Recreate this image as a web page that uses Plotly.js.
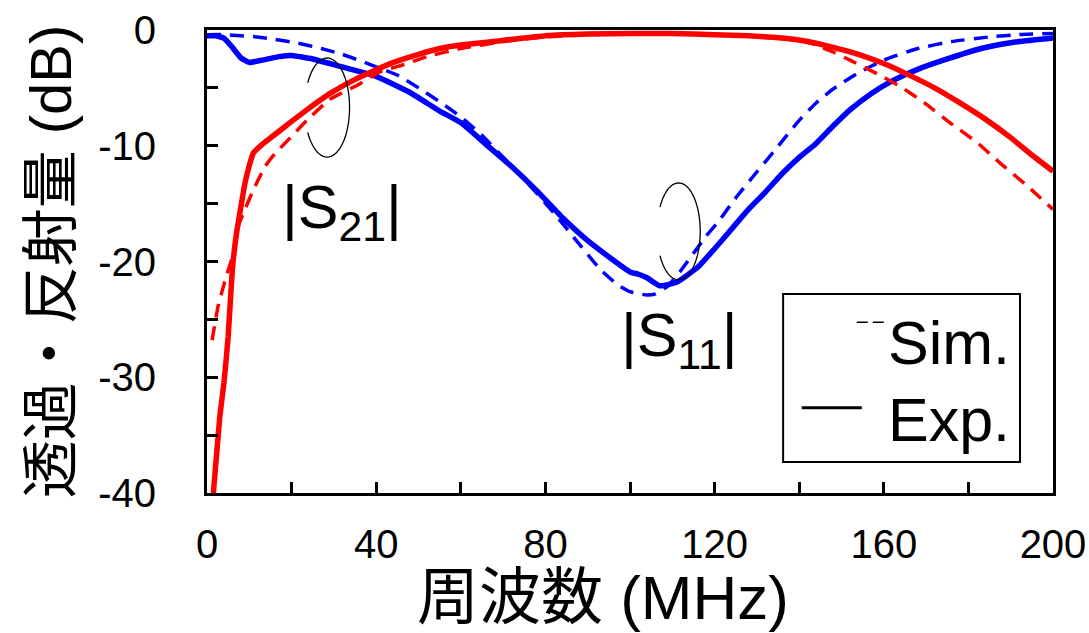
<!DOCTYPE html>
<html><head><meta charset="utf-8">
<script src="https://cdn.plot.ly/plotly-3.0.1.min.js"></script>
<style>html,body{margin:0;padding:0;background:#fff}#chart{width:1089px;height:633px}</style>
</head><body><div id="chart"></div>
<script>
// |S11| measured (Exp.)
const s11ExpX = [0, 2, 4, 6, 8, 10, 13, 17, 20, 25, 31, 40, 48, 55, 60, 66, 72, 78, 84, 90, 95, 100, 102, 104, 107, 111, 116, 120, 124, 128, 132, 136, 140, 144, 148, 152, 157, 162, 168, 175, 183, 190, 200];
const s11ExpY = [-0.5, -0.5, -0.7, -1.5, -2.4, -2.8, -2.6, -2.3, -2.2, -2.5, -3.1, -4.0, -5.4, -7.0, -8.0, -9.9, -11.8, -13.9, -16.2, -18.2, -19.6, -20.9, -21.1, -21.4, -22.1, -21.8, -20.5, -18.9, -17.2, -15.5, -14.0, -12.4, -11.0, -9.8, -8.3, -6.9, -5.5, -4.4, -3.4, -2.5, -1.6, -1.1, -0.7];
// |S11| simulated (Sim.)
const s11SimX = [0, 4, 8, 12, 16, 21, 27, 32, 38, 45, 50, 55, 60, 65, 70, 76, 82, 88, 93, 97, 100, 104, 106, 109, 112, 115, 118, 121, 125, 129, 134, 140, 144, 148, 154, 160, 168, 176, 185, 192, 200];
const s11SimY = [-0.4, -0.4, -0.5, -0.6, -0.8, -1.1, -1.6, -2.1, -2.9, -3.9, -5.0, -6.2, -7.5, -9.1, -11.0, -13.3, -15.8, -18.5, -20.7, -22.0, -22.6, -22.9, -22.8, -22.1, -20.8, -19.3, -17.8, -16.5, -14.5, -12.7, -10.5, -7.8, -6.3, -5.1, -3.7, -2.6, -1.6, -1.0, -0.6, -0.4, -0.3];
// |S21| measured (Exp.)
const s21ExpX = [1.5, 3, 4, 5, 6, 7, 8, 9, 10, 11, 13, 16.5, 20, 23.6, 29, 35.4, 43.3, 50, 55, 60, 70, 80, 90, 100, 110, 120, 128, 136, 142, 148, 154, 160, 166, 172, 178, 184, 190, 195, 200];
const s21ExpY = [-40, -33.5, -30.5, -26.5, -20.7, -17.5, -15.3, -13.2, -11.7, -10.6, -9.9, -8.9, -7.9, -6.9, -5.5, -4.2, -2.9, -2.1, -1.6, -1.3, -0.9, -0.5, -0.35, -0.3, -0.3, -0.4, -0.5, -0.7, -1.0, -1.5, -2.1, -2.9, -3.9, -5.0, -6.3, -7.7, -9.3, -10.8, -12.2];
// |S21| simulated (Sim.)
const s21SimX = [1.2, 2.6, 4.3, 6, 7.3, 9, 10.6, 13.7, 16, 20, 23.6, 29, 35.4, 41, 46.4, 52, 60, 70, 80, 90, 100, 110, 120, 130, 138, 142.5, 148, 152, 158, 164, 170, 175.6, 182, 187.5, 194, 200];
const s21SimY = [-26.8, -23.9, -21.6, -19.6, -17.0, -15.5, -14.1, -11.8, -10.7, -9.2, -7.8, -6.0, -4.8, -3.6, -3.0, -2.3, -1.6, -1.0, -0.6, -0.4, -0.3, -0.3, -0.4, -0.6, -0.8, -1.1, -1.9, -2.6, -3.7, -4.9, -6.4, -8.0, -9.7, -11.5, -13.5, -15.5];

const xTickVals = [0, 20, 40, 60, 80, 100, 120, 140, 160, 180, 200];
const xTickText = ["0", "", "40", "", "80", "", "120", "", "160", "", "200"];
const yTickVals = [0, -5, -10, -15, -20, -25, -30, -35, -40];
const yTickText = ["0", "", "-10", "", "-20", "", "-30", "", "-40"];

const BLUE = '#0000ff', RED = '#ff0000';
const FONT = 'Liberation Sans, Arial, Noto Sans CJK JP, sans-serif';

const traces = [
  {x: s11SimX, y: s11SimY, mode: 'lines', name: 'S11 Sim.', line: {color: BLUE, width: 3.5, dash: '14px,9px', shape: 'spline', smoothing: 0.4}},
  {x: s11ExpX, y: s11ExpY, mode: 'lines', name: 'S11 Exp.', line: {color: BLUE, width: 5.5, shape: 'spline', smoothing: 0.4}},
  {x: s21SimX, y: s21SimY, mode: 'lines', name: 'S21 Sim.', line: {color: RED, width: 3.5, dash: '14px,9px', shape: 'spline', smoothing: 0.4}},
  {x: s21ExpX, y: s21ExpY, mode: 'lines', name: 'S21 Exp.', line: {color: RED, width: 5.5, shape: 'spline', smoothing: 0.4}}
];

// open ellipse (annotation marker) in data coordinates, opening on the left
function openEllipse(cx, cy, rx, ry) {
  let p = '';
  const n = 60;
  for (let i = 0; i <= n; i++) {
    const a = (150 - i * 300 / n) * Math.PI / 180;
    const x = cx + rx * Math.cos(a), y = cy + ry * Math.sin(a);
    p += (i === 0 ? 'M' : 'L') + x.toFixed(3) + ',' + y.toFixed(3) + ' ';
  }
  return p;
}

const shapes = [
  {type: 'path', xref: 'x', yref: 'y', path: openEllipse(28.4, -6.7, 5.3, 4.28), line: {color: '#000', width: 1.3}},
  {type: 'path', xref: 'x', yref: 'y', path: openEllipse(111.5, -17.4, 5.1, 4.19), line: {color: '#000', width: 1.3}},
  // legend box
  {type: 'rect', xref: 'paper', yref: 'paper', x0: 0.681, x1: 0.961, y0: 0.067, y1: 0.430, line: {color: '#000', width: 2}, fillcolor: 'rgba(255,255,255,0)'},
  {type: 'line', xref: 'paper', yref: 'paper', x0: 0.768, x1: 0.803, y0: 0.369, y1: 0.369, line: {color: '#000', width: 1.5, dash: '11px,5px'}},
  {type: 'line', xref: 'paper', yref: 'paper', x0: 0.703, x1: 0.774, y0: 0.184, y1: 0.184, line: {color: '#000', width: 3}}
];

const annotations = [
  {xref: 'x', yref: 'y', x: 31.8, y: -15.7, text: '|S<sub>21</sub>|', showarrow: false, font: {family: FONT, size: 61, color: '#000'}},
  {xref: 'x', yref: 'y', x: 111.6, y: -26.7, text: '|S<sub>11</sub>|', showarrow: false, font: {family: FONT, size: 61, color: '#000'}},
  {xref: 'paper', yref: 'paper', x: 0.803, y: 0.324, xanchor: 'left', yanchor: 'middle', text: 'Sim.', showarrow: false, font: {family: FONT, size: 61, color: '#000'}},
  {xref: 'paper', yref: 'paper', x: 0.803, y: 0.158, xanchor: 'left', yanchor: 'middle', text: 'Exp.', showarrow: false, font: {family: FONT, size: 61, color: '#000'}},
  // x-axis title
  {xref: 'paper', yref: 'paper', x: 0.468, y: -0.226, xanchor: 'center', yanchor: 'middle', text: '周波数 (MHz)', showarrow: false, font: {family: FONT, size: 62, color: '#000'}}
];

const layout = {
  width: 1089, height: 633,
  margin: {l: 207, r: 36, t: 30, b: 140},
  paper_bgcolor: '#fff', plot_bgcolor: '#fff',
  showlegend: false,
  font: {family: FONT, color: '#000'},
  xaxis: {
    range: [0, 200], tickvals: xTickVals, ticktext: xTickText,
    ticks: 'inside', ticklen: 11, tickwidth: 3, tickcolor: '#000',
    showline: true, linewidth: 3, linecolor: '#000', mirror: true,
    showgrid: false, zeroline: false,
    tickfont: {family: FONT, size: 40, color: '#000'}, ticklabelstandoff: 14
  },
  yaxis: {
    range: [-40, 0], tickvals: yTickVals, ticktext: yTickText,
    ticks: 'inside', ticklen: 11, tickwidth: 3, tickcolor: '#000',
    showline: true, linewidth: 3, linecolor: '#000', mirror: true,
    showgrid: false, zeroline: false,
    tickfont: {family: FONT, size: 40, color: '#000'}, ticklabelstandoff: 40,
    title: {text: '透過・反射量 (dB)', font: {family: FONT, size: 58, color: '#000'}, standoff: 8}
  },
  shapes: shapes,
  annotations: annotations
};

Plotly.newPlot('chart', traces, layout, {displayModeBar: false, staticPlot: true});
</script>
</body></html>
